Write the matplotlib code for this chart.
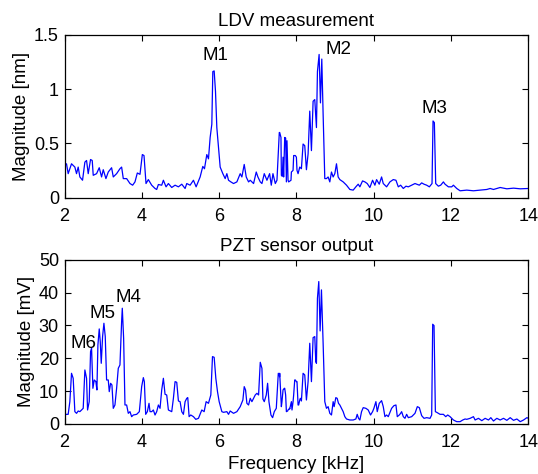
import matplotlib
matplotlib.use("Agg")
import matplotlib.pyplot as plt
import numpy as np

plt.rcParams['font.family'] = ['Liberation Sans', 'DejaVu Sans']
plt.rcParams['font.size'] = 13.5

# ---- Top panel (LDV) traced in zoom pixel coordinates ----
# zoom A: freq = 2 + (zx-14)/115.7 ; mag = (503-zy)/330
ldv_a_x = [14,20,25,35,45,50,55,60,68,75,80,85,92,97,100,110,118,125,130,138,145,155,160,170,180,185,190,200,210,218,225,232,240,247,252,258,265,275,285,290,295,305,310,318,325,335,345,355,365,375,380,390,400,408,420,428,433,440,445,450,455,458,462,466,470,475,480,488,495,500,505,512,520,530,540,545,552,558,565,570,580,588,593,600,605,612,620,628,633,638,645,650,657,662,666,670,676,680,685,692,700,705,710]
ldv_a_y = [405,400,430,400,410,430,410,440,450,395,390,430,387,390,435,430,412,440,418,445,425,412,440,430,415,410,445,445,460,465,455,428,432,372,375,460,448,465,475,478,463,465,450,470,460,472,465,470,462,475,460,465,450,470,440,408,415,372,385,320,280,120,118,180,290,350,410,430,445,430,450,455,460,455,430,440,402,440,455,450,460,425,440,455,460,430,450,430,465,430,460,450,305,320,438,440,322,330,455,450,375,375,420]
# zoom B: freq = 8 + (zx-50)/115.7 ; mag = (503-zy)/330
ldv_b_x = [0,5,10,15,20,25,35,40,45,50,55,60,65,70,75,80,85,90,95,100,105,110,113,118,122,126,130,135,140,145,150,155,160,165,170,175,180,190,200,210,220,228,235,240,248,255,262,270,278,285,290,298,305,310,320,330,340,348,355,362,370,378,385,395,405,418,425,432,440,448,452,456,459,463,467,475,482,490,495,505,515,520,530,540,560,580,600,620,630,640,660,680,700,720,745]
ldv_b_y = [305,435,380,320,455,450,425,420,375,380,430,410,415,340,345,418,370,240,360,210,205,290,120,68,215,82,250,445,445,440,455,425,440,430,400,440,448,455,465,478,480,470,462,470,452,455,460,472,450,465,448,462,440,460,470,455,448,450,470,465,475,468,470,465,460,465,458,462,465,470,465,460,270,275,460,468,465,455,462,470,470,465,475,482,480,482,480,478,475,478,472,476,474,476,475]

# ---- Bottom panel (PZT) traced ----
# zoom C: freq = 2 + (zx-14)/115.7 ; mag = (507-zy)/9.85
pzt_a_x = [14,20,25,30,35,40,45,50,55,60,65,70,75,80,83,88,92,95,99,103,108,111,114,118,121,124,128,132,136,140,145,148,152,156,160,165,170,175,180,185,187,191,195,200,205,210,215,220,230,238,245,250,253,257,262,267,270,275,280,285,290,295,300,305,310,315,320,325,335,340,345,350,355,360,365,370,375,380,383,387,392,400,407,415,425,432,438,445,452,457,462,467,472,477,485,490,500,505,510,520,530,540,548,552,556,560,565,570,575,580,585,590,595,600,605,608,612,618,622,626,632,637,642,648,654,658,665,672,676,682,688,695,700,705,710,715,720]
pzt_a_y = [480,478,478,440,355,370,470,475,468,470,465,460,345,370,465,440,290,280,400,375,380,405,270,222,260,325,245,205,245,375,375,410,385,390,460,450,400,340,330,200,160,250,450,450,475,470,485,480,478,470,395,368,380,478,470,445,470,470,465,480,470,450,460,405,370,418,420,465,470,430,380,382,438,440,470,478,440,430,428,485,480,485,493,490,465,470,440,445,420,305,307,370,410,440,470,472,470,478,468,475,470,455,435,395,405,445,450,430,440,430,420,415,420,322,340,432,440,420,385,440,480,488,470,460,355,365,440,400,420,468,460,465,420,375,380,450,430]
# zoom D: freq = 8 + (zx-50)/115.7 ; mag = (507-zy)/9.85
pzt_b_x = [0,5,10,15,20,25,30,35,40,45,50,55,60,65,70,75,80,85,90,95,100,105,108,110,113,117,121,125,130,135,140,145,150,155,160,163,168,172,176,180,185,190,195,200,210,220,228,232,236,240,245,250,258,265,272,278,282,288,292,298,305,310,315,320,325,335,342,348,352,358,362,365,370,375,380,385,395,405,412,418,425,432,440,450,455,458,462,466,470,480,490,497,503,510,520,530,540,548,555,560,570,580,585,595,605,615,625,632,640,650,660,670,680,690,700,710,720,730,740,745]
pzt_b_y = [355,455,405,400,470,465,462,440,440,375,380,450,435,438,355,360,435,380,265,380,248,245,320,325,130,80,228,105,265,440,460,455,475,480,440,455,428,430,445,450,460,470,485,492,495,495,492,478,490,495,470,458,460,465,480,470,460,440,470,445,437,455,485,480,485,460,452,450,485,480,475,470,485,490,478,488,485,475,455,458,482,490,488,490,480,208,212,470,472,478,478,485,480,485,495,500,500,495,492,493,490,485,495,490,497,490,495,488,498,490,495,490,496,488,496,492,500,495,488,490]

ldv_f = np.concatenate([2 + (np.array(ldv_a_x) - 14) / 115.7, 8 + (np.array(ldv_b_x) - 50) / 115.7])
ldv_m = np.concatenate([(503 - np.array(ldv_a_y)) / 330.0, (503 - np.array(ldv_b_y)) / 330.0])
pzt_f = np.concatenate([2 + (np.array(pzt_a_x) - 14) / 115.7, 8 + (np.array(pzt_b_x) - 50) / 115.7])
pzt_m = np.concatenate([(507 - np.array(pzt_a_y)) / 9.85, (507 - np.array(pzt_b_y)) / 9.85])

o1 = np.argsort(ldv_f, kind='stable')
o2 = np.argsort(pzt_f, kind='stable')
ldv_f, ldv_m = ldv_f[o1], ldv_m[o1]
pzt_f, pzt_m = pzt_f[o2], pzt_m[o2]

W, H = 538, 474
fig = plt.figure(figsize=(W / 100, H / 100), dpi=100)
left = 64.5 / W
width = (528.3 - 64.5) / W
ax1 = fig.add_axes([left, 1 - 197.7 / H, width, (197.7 - 34.7) / H])
ax2 = fig.add_axes([left, 1 - 424 / H, width, (424 - 259.7) / H])

ax1.plot(ldv_f, ldv_m, color='#0000ff', lw=0.9)
ax2.plot(pzt_f, pzt_m, color='#0000ff', lw=0.9)

ax1.set_xlim(2, 14)
ax1.set_ylim(0, 1.5)
ax1.set_yticks([0, 0.5, 1, 1.5])
ax1.set_yticklabels(['0', '0.5', '1', '1.5'])
ax2.set_xlim(2, 14)
ax2.set_ylim(0, 50)
ax2.set_yticks([0, 10, 20, 30, 40, 50])
for ax in (ax1, ax2):
    ax.set_xticks([2, 4, 6, 8, 10, 12, 14])
    ax.tick_params(direction='in', top=True, right=True, length=4, width=0.8, labelsize=13)
    ax.tick_params(axis='y', pad=4)
    ax.tick_params(axis='x', pad=7.5)
    for s in ax.spines.values():
        s.set_linewidth(0.9)

ax1.set_title('LDV measurement', fontsize=13.5, pad=6)
ax2.set_title('PZT sensor output', fontsize=13.5, pad=6)
ax1.set_ylabel('Magnitude [nm]', fontsize=13.5, labelpad=3)
ax2.set_ylabel('Magnitude [mV]', fontsize=13.5, labelpad=3)
ax2.set_xlabel('Frequency [kHz]', fontsize=13.5, labelpad=3)

fs = 13.5
ax1.text(5.91, 1.267, 'M1', ha='center', va='baseline', fontsize=fs)
ax1.text(9.09, 1.318, 'M2', ha='center', va='baseline', fontsize=fs)
ax1.text(11.57, 0.78, 'M3', ha='center', va='baseline', fontsize=fs)
ax2.text(3.66, 37.2, 'M4', ha='center', va='baseline', fontsize=fs)
ax2.text(2.99, 32.4, 'M5', ha='center', va='baseline', fontsize=fs)
ax2.text(2.48, 23.2, 'M6', ha='center', va='baseline', fontsize=fs)

fig.savefig('out.png', dpi=100)
